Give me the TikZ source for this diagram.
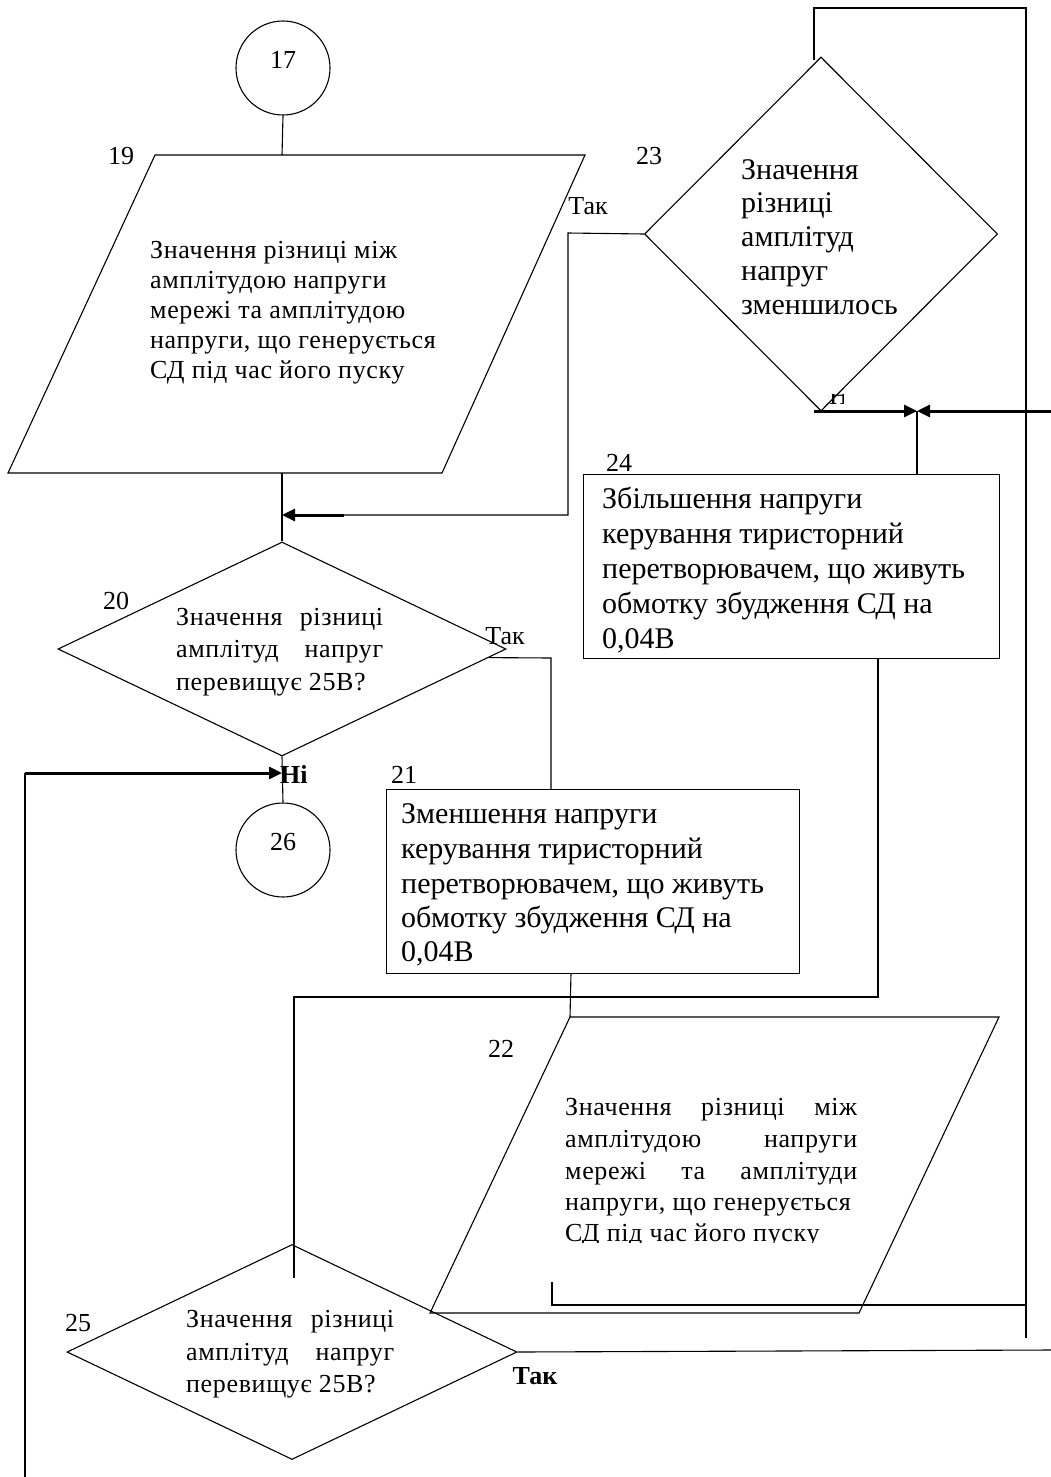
\documentclass[tikz,border=0pt]{standalone}
\usepackage{fontspec}
\setmainfont{Liberation Serif}
\newfontfamily\lightfam[LetterSpace=2.5]{Liberation Serif}
\usetikzlibrary{shapes.geometric,arrows.meta,calc}
\newcommand\ftl{\lightfam\fontsize{26}{30}\selectfont}
\newcommand\ftb{\fontsize{30}{35}\selectfont}
\newcommand\ftn{\fontsize{26}{30}\selectfont}
\tikzset{
 lineN/.style={line width=1.1pt},
 thickN/.style={line width=3pt},
 arrowN/.style={-{Triangle[length=13pt,width=12pt]}},
 shapeN/.style={draw, line width=1.1pt, inner sep=0pt},
 circN/.style={shapeN, circle, minimum size=94pt},
 diaN/.style={shapeN, diamond},
 boxN/.style={shapeN, rectangle, anchor=north west},
 txtL/.style={anchor=base west, inner sep=0pt, font=\ftl},
 txtB/.style={anchor=base west, inner sep=0pt, font=\ftb},
 numL/.style={inner sep=0pt, font=\ftn},
}
\begin{document}
\begin{tikzpicture}[x=1pt,y=-1pt]
\useasboundingbox[fill=white] (0,0) rectangle (1051,1477);

% ---------- shapes ----------
\node[circN] (c17) at (283,68) {};
\node[numL] (n17) at (283,60) {17};

\coordinate (p19tl) at (155,155);
\coordinate (p19tr) at (585,155);
\coordinate (p19br) at (442,473);
\coordinate (p19bl) at (8,473);
\draw[lineN] (p19tl) -- (p19tr) -- (p19br) -- (p19bl) -- cycle;
\coordinate (p19top) at (282,155);
\coordinate (p19bot) at (282,473);

\node[diaN, minimum width=448pt, minimum height=214pt] (d20) at (282,649) {};
\node[diaN, minimum width=353pt, minimum height=354pt] (d23) at (821,234) {};
\node[boxN, minimum width=416pt, minimum height=184pt] (b24) at (583,474) {};
\node[boxN, minimum width=413pt, minimum height=184pt] (b21) at (386,789) {};
\node[circN] (c26) at (283,850) {};
\node[numL] (n26) at (283,842) {26};

\coordinate (p22tl) at (570,1017);
\coordinate (p22tr) at (999,1017);
\coordinate (p22br) at (859,1313);
\coordinate (p22bl) at (430,1313);
\draw[lineN] (p22tl) -- (p22tr) -- (p22br) -- (p22bl) -- cycle;

\node[diaN, minimum width=450pt, minimum height=215pt] (d25) at (292,1352) {};

% ---------- numbers and labels ----------
\node[numL] (n19) at (121,156) {19};
\node[numL] (n20) at (116,601) {20};
\node[numL] (n21) at (404,775) {21};
\node[numL] (n22) at (501,1049) {22};
\node[numL] (n23) at (649,156) {23};
\node[numL] (n24) at (619,463) {24};
\node[numL] (n25) at (78,1323) {25};
\node[numL] (yes23) at (588,206) {Так};
\node[numL] (yes20) at (505,636) {Так};
\node[numL, font=\ftn\bfseries] (yes25) at (535,1376) {Так};
\node[numL, font=\ftn\bfseries, anchor=west] (no20) at (280,774) {Ні};
\begin{scope}
\clip (829,394) rectangle (843,404);
\node[numL, anchor=base west] (no23) at (829,404) {Ні};
\end{scope}

% ---------- texts ----------
\node[txtL] (t19a) at (150,258) {Значення різниці між};
\node[txtL] (t19b) at (150,288) {амплітудою напруги};
\node[txtL] (t19c) at (150,318) {мережі та амплітудою};
\node[txtL] (t19d) at (150,348) {напруги, що генерується};
\node[txtL] (t19e) at (150,378) {СД під час його пуску};

\node[txtL] (t20a) at (176,625) {\makebox[207pt][s]{Значення різниці}};
\node[txtL] (t20b) at (176,657) {\makebox[207pt][s]{амплітуд напруг}};
\node[txtL] (t20c) at (176,690) {перевищує 25В?};

\node[txtB] (t23a) at (741,179) {Значення};
\node[txtB] (t23b) at (741,212) {різниці};
\node[txtB] (t23c) at (741,246) {амплітуд};
\node[txtB] (t23d) at (741,280) {напруг};
\node[txtB] (t23e) at (741,314) {зменшилось};

\node[txtB] (t24a) at (602,508) {Збільшення напруги};
\node[txtB] (t24b) at (602,543) {керування тиристорний};
\node[txtB] (t24c) at (602,578) {перетворювачем, що живуть};
\node[txtB] (t24d) at (602,613) {обмотку збудження СД на};
\node[txtB] (t24e) at (602,648) {0,04В};

\node[txtB] (t21a) at (401,823) {Зменшення напруги};
\node[txtB] (t21b) at (401,858) {керування тиристорний};
\node[txtB] (t21c) at (401,893) {перетворювачем, що живуть};
\node[txtB] (t21d) at (401,927) {обмотку збудження СД на};
\node[txtB] (t21e) at (401,961) {0,04В};

\node[txtL] (t22a) at (565,1115) {\makebox[292pt][s]{Значення різниці між}};
\node[txtL] (t22b) at (565,1147) {\makebox[292pt][s]{амплітудою напруги}};
\node[txtL] (t22c) at (565,1179) {\makebox[292pt][s]{мережі та амплітуди}};
\node[txtL] (t22d) at (565,1210) {напруги, що генерується};
\begin{scope}
\clip (540,1200) rectangle (880,1242);
\node[txtL] (t22e) at (565,1241) {СД під час його пуску};
\end{scope}

\node[txtL] (t25a) at (186,1327) {\makebox[208pt][s]{Значення різниці}};
\node[txtL] (t25b) at (186,1360) {\makebox[208pt][s]{амплітуд напруг}};
\node[txtL] (t25c) at (186,1392) {перевищує 25В?};

% ---------- connectors ----------
\draw[lineN] (c17.south) -- (p19top);
\draw[lineN] (p19bot) -- (d20.north);

\coordinate (m19) at (282,515);
\coordinate (k23a) at (568,233);
\coordinate (k23b) at (568,515);
\coordinate (k23c) at (344,515);
\draw[lineN] (d23.west) -- (k23a) -- (k23b) -- (k23c);
\draw[thickN, arrowN] (k23c) -- (m19);

\coordinate (s20) at ($(d20.east)!0.08!(d20.south)$);
\coordinate (k20) at (551,658);
\coordinate (b21in) at (551,789);
\draw[lineN] (s20) -- (k20) -- (b21in);

\draw[lineN] (d20.south) -- (c26.north);
\coordinate (m20) at (282,773);
\coordinate (lb) at (25,1477);
\coordinate (la) at (25,773);
\draw[lineN] (lb) -- (la);
\draw[thickN, arrowN] (la) -- (m20);

\coordinate (b21out) at (571,973);
\draw[lineN] (b21out) -- (p22tl);

\coordinate (b24out) at (878,658);
\coordinate (k24a) at (878,997);
\coordinate (k24b) at (294,997);
\coordinate (k24c) at (294,1278);
\draw[lineN] (b24out) -- (k24a) -- (k24b) -- (k24c);

\coordinate (t23top) at (814,60);
\coordinate (k23t1) at (814,8);
\coordinate (k23t2) at (1026,8);
\coordinate (k23t3) at (1026,1338);
\draw[lineN] (t23top) -- (k23t1) -- (k23t2) -- (k23t3);

\coordinate (br1) at (552,1282);
\coordinate (br2) at (552,1305);
\coordinate (br3) at (1026,1305);
\draw[lineN] (br1) -- (br2) -- (br3);

\coordinate (d23s) at (814,411);
\coordinate (m24) at (917,411);
\coordinate (rin) at (1051,411);
\coordinate (b24in) at (917,474);
\draw[thickN, arrowN] (d23s) -- (m24);
\draw[thickN, arrowN] (rin) -- (m24);
\draw[lineN] (m24) -- (b24in);

\coordinate (rout) at (1051,1350);
\draw[lineN] (d25.east) -- (rout);
\end{tikzpicture}
\end{document}
